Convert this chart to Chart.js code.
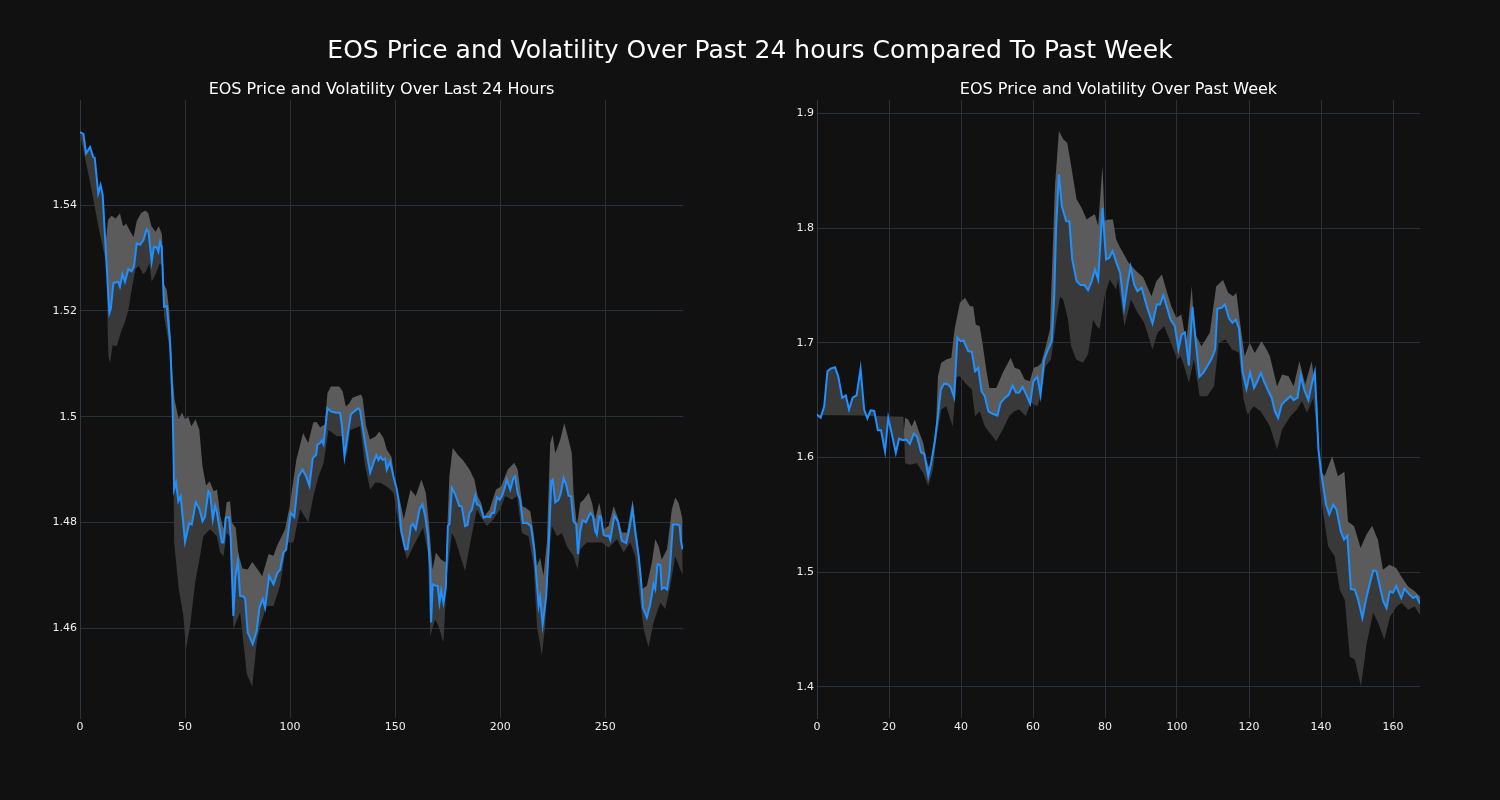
<!DOCTYPE html>
<html><head><meta charset="utf-8">
<script src="https://cdn.jsdelivr.net/npm/chart.js@4.4.0/dist/chart.umd.min.js"></script>
<style>
html,body{margin:0;padding:0;background:#111111;width:1500px;height:800px;overflow:hidden;font-family:"DejaVu Sans",sans-serif;}
.t{position:absolute;color:#ffffff;text-align:center;white-space:nowrap;}
canvas{position:absolute;top:0;}
</style></head><body>
<canvas id="c1" width="750" height="800" style="left:0px"></canvas>
<canvas id="c2" width="750" height="800" style="left:750px"></canvas>
<div class="t" style="left:0;width:1500px;top:35px;font-size:25px;line-height:30px;">EOS Price and Volatility Over Past 24 hours Compared To Past Week</div>
<div class="t" style="left:80px;width:603px;top:79px;font-size:16px;line-height:20px;">EOS Price and Volatility Over Last 24 Hours</div>
<div class="t" style="left:817px;width:603px;top:79px;font-size:16px;line-height:20px;">EOS Price and Volatility Over Past Week</div>
<script>
// ---------- Left chart: last 24 hours ----------
const leftTitle = "EOS Price and Volatility Over Last 24 Hours";
const leftXTicks = [0, 50, 100, 150, 200, 250];
const leftYTicks = [1.46, 1.48, 1.5, 1.52, 1.54];
const leftPriceX = [0,1.6,2.9,4.8,6.3,7,8.7,9.8,10.8,12.7,14,14.7,15.9,18.2,19,20.2,21.4,23,24.6,25.7,27,28.6,30.2,31.7,32.6,34.1,35.2,36.5,37.3,38.1,38.9,40,41.3,42.9,44,44.6,44.8,45.7,46.8,47.9,50,52,53.2,55.1,56.8,58.3,59.5,61.1,61.9,63.2,64.3,65.1,67.5,68.3,69.4,71,71.7,73,74,75.1,76.2,77.8,78.6,79.8,82.2,84.1,85.4,87,88.1,90,92.1,94,95.2,96.8,98.1,100.3,102,104,105.9,107.6,109.2,110.8,112.4,113,114.3,115.1,115.9,117.8,119.4,121.4,123.8,124.6,125.9,127,128.9,130.5,132.5,133.3,135.7,138.1,139.7,141,142.1,142.9,144.1,145.2,146,147.6,149.2,150.8,151.6,152.9,154.8,155.9,157.5,158.4,159.8,161.6,163,164.3,165.6,166.7,167.1,167.9,169.5,170.2,171.1,171.9,173,174.1,175.1,175.9,177,178.6,180.5,181.7,183.3,184.4,185.4,186.5,188.1,188.9,190.5,192.1,193.7,195.2,196,197.1,198.4,199.7,200.8,201.9,203.2,204.8,206.3,207.1,208.3,209.5,210.8,212.7,214.6,216.2,218.3,219,220.2,221.9,223,224.3,225,226.2,227.8,228.9,230.2,231.4,232.5,233.7,234.9,236.2,237,238.1,239.2,240.8,242.9,244.1,245.2,246,247.1,248,249.2,250.5,251.6,252.4,254.3,256,257.9,260,261.6,263,264.3,265.9,267,267.9,269.8,271.4,273,273.8,274.9,276.2,276.9,278,279.4,280.6,282.2,284.1,285.4,286,286.8];
const leftPriceY = [1.5538,1.5535,1.5498,1.5510,1.5491,1.5490,1.5422,1.5438,1.5419,1.5284,1.5196,1.5205,1.5253,1.5255,1.5246,1.5270,1.5255,1.5279,1.5275,1.5284,1.5328,1.5325,1.5334,1.5354,1.5350,1.5293,1.5321,1.5320,1.5312,1.5331,1.5320,1.5208,1.5209,1.5140,1.5032,1.4910,1.4862,1.4875,1.4840,1.4849,1.4763,1.4799,1.4796,1.4838,1.4826,1.4802,1.4811,1.4859,1.4855,1.4806,1.4831,1.4820,1.4762,1.4762,1.4809,1.4810,1.4774,1.4623,1.4699,1.4727,1.4661,1.4660,1.4655,1.4592,1.4570,1.4595,1.4639,1.4655,1.4639,1.4699,1.4683,1.4705,1.4710,1.4743,1.4748,1.4818,1.4810,1.4887,1.4900,1.4887,1.4869,1.4922,1.4928,1.4947,1.4950,1.4955,1.4948,1.5016,1.5010,1.5008,1.5007,1.4985,1.4925,1.4956,1.5004,1.5010,1.5016,1.5012,1.4950,1.4894,1.4913,1.4927,1.4918,1.4924,1.4918,1.4921,1.4900,1.4915,1.4887,1.4862,1.4843,1.4784,1.4749,1.4749,1.4793,1.4797,1.4787,1.4825,1.4834,1.4812,1.4774,1.4711,1.4611,1.4683,1.4680,1.4680,1.4648,1.4671,1.4648,1.4676,1.4793,1.4797,1.4865,1.4853,1.4831,1.4830,1.4793,1.4795,1.4818,1.4824,1.4851,1.4834,1.4831,1.4809,1.4811,1.4810,1.4818,1.4818,1.4847,1.4843,1.4850,1.4862,1.4881,1.4862,1.4884,1.4887,1.4856,1.4843,1.4799,1.4799,1.4793,1.4749,1.4642,1.4658,1.4606,1.4661,1.4749,1.4878,1.4881,1.4838,1.4843,1.4856,1.4884,1.4871,1.4851,1.4849,1.4802,1.4796,1.4740,1.4784,1.4804,1.4800,1.4818,1.4812,1.4784,1.4777,1.4812,1.4810,1.4777,1.4774,1.4775,1.4767,1.4813,1.4802,1.4765,1.4761,1.4790,1.4826,1.4781,1.4736,1.4692,1.4639,1.4620,1.4645,1.4683,1.4674,1.4721,1.4719,1.4674,1.4677,1.4673,1.4705,1.4796,1.4796,1.4794,1.4765,1.4749];
const leftUpperX = [0,1.6,2.9,4.8,6.3,7,8.7,9.8,10.8,12,13.3,15,17,19,20.5,22,24,25.5,27,29,31,32.5,34,36,37.5,39,40,41.3,42.5,44,45,47,48.5,50,51.5,53,55,56.8,58.3,60,61.7,63.7,65.2,66.8,68.3,69.8,71.4,72.3,74.1,75.4,77.3,79.8,82,85.1,86.7,89.8,92.1,93.7,97.6,99.8,103,106.2,108.6,111,112.6,114.3,116.5,117.8,119.4,123.4,125,126.5,128.1,129.7,133.7,134.5,136.1,138,140.8,142.4,144.4,146,148.3,150.2,152.5,154.1,157.3,159.8,162.5,164.6,166.2,167.8,169.4,171.8,174.2,175.8,177.4,179.8,182.2,185.4,187.7,189.3,190.9,192.5,194.9,198,200.4,203.6,206.7,208.3,210.6,211.9,214.3,215.9,217.5,219,220.6,222.2,223.8,225,226.2,228.6,230.5,232.5,234.1,234.9,236.5,238.1,239.7,242.1,243.7,245.2,247.1,248.4,249.2,251.6,254,256.3,257.9,260.3,263,264.3,265.9,267.5,269.8,272.2,273.8,275.4,276.9,279.4,281.7,283.3,284.9,286.8];
const leftUpperY = [1.5538,1.5535,1.5498,1.5510,1.5491,1.5490,1.5422,1.5438,1.5419,1.5320,1.5372,1.5380,1.5375,1.5385,1.5360,1.5365,1.5350,1.5340,1.5370,1.5385,1.5390,1.5385,1.5360,1.5350,1.5360,1.5345,1.5250,1.5240,1.5200,1.5080,1.5032,1.4995,1.5008,1.4995,1.5000,1.4982,1.4995,1.4975,1.4906,1.4870,1.4878,1.4859,1.4862,1.4812,1.4787,1.4838,1.4840,1.4800,1.4790,1.4740,1.4713,1.4711,1.4725,1.4708,1.4698,1.4740,1.4737,1.4755,1.4787,1.4831,1.4919,1.4969,1.4950,1.4989,1.4990,1.4980,1.4985,1.5045,1.5057,1.5057,1.5048,1.5019,1.5025,1.5036,1.5042,1.5036,1.4984,1.4957,1.4963,1.4972,1.4960,1.4938,1.4923,1.4868,1.4837,1.4806,1.4862,1.4850,1.4881,1.4856,1.4793,1.4711,1.4743,1.4730,1.4724,1.4887,1.4941,1.4928,1.4918,1.4900,1.4881,1.4850,1.4837,1.4812,1.4824,1.4862,1.4868,1.4900,1.4913,1.4900,1.4830,1.4828,1.4821,1.4780,1.4718,1.4733,1.4699,1.4762,1.4950,1.4966,1.4931,1.4957,1.4988,1.4957,1.4931,1.4856,1.4793,1.4837,1.4843,1.4856,1.4837,1.4806,1.4837,1.4812,1.4787,1.4793,1.4831,1.4806,1.4781,1.4781,1.4843,1.4799,1.4749,1.4674,1.4680,1.4724,1.4768,1.4755,1.4730,1.4749,1.4825,1.4847,1.4837,1.4806];
const leftLowerX = [0,4.8,9,12.5,13.5,14.3,15.5,17.5,19.5,21.5,23,25,26.5,28,30,31.5,33,34.1,36,38,39,40,41.3,42.5,44.4,44.8,47,49.2,50.4,52.4,54.8,57.1,58.7,61.9,65.1,66.7,68.3,69.8,71.4,73,76.2,79.4,82,84.1,85.7,88.9,92.1,95.2,98.4,101.6,104.8,108.7,111.1,113.5,115.9,118.3,122.2,125.4,127,128.6,133.3,135.7,138.1,140.5,142.9,146,149.2,152.4,155.6,158.7,163.3,165.6,166.7,169,170.6,173,174.6,177,178.6,181,183.3,184.9,187.3,188.9,190.5,193.7,196.8,200,202.4,205.6,208,210.3,213.5,215.9,217.5,218.3,219.8,221.4,223,224.6,227,229.4,231.7,234.9,236.8,238.1,241.3,244.4,248.4,251.6,255.6,258.7,261.9,264.3,266.7,268.3,270.6,273,276.2,278.6,281,283.3,285.7,287];
const leftLowerY = [1.5535,1.5443,1.5355,1.5290,1.5115,1.5101,1.5135,1.5133,1.5160,1.5180,1.5202,1.5250,1.5280,1.5285,1.5270,1.5275,1.5290,1.5255,1.5270,1.5290,1.5285,1.5190,1.5160,1.5130,1.4950,1.4762,1.4674,1.4623,1.4560,1.4604,1.4686,1.4736,1.4774,1.4787,1.4774,1.4743,1.4736,1.4780,1.4774,1.4598,1.4630,1.4513,1.4489,1.4573,1.4604,1.4642,1.4642,1.4680,1.4762,1.4762,1.4825,1.4800,1.4850,1.4887,1.4912,1.4975,1.4963,1.4963,1.4925,1.4975,1.4982,1.4906,1.4862,1.4875,1.4875,1.4868,1.4856,1.4780,1.4730,1.4755,1.4790,1.4743,1.4585,1.4617,1.4604,1.4573,1.4699,1.4780,1.4768,1.4736,1.4708,1.4743,1.4793,1.4825,1.4812,1.4793,1.4806,1.4825,1.4850,1.4843,1.4850,1.4780,1.4774,1.4718,1.4604,1.4585,1.4548,1.4604,1.4724,1.4793,1.4774,1.4780,1.4755,1.4736,1.4711,1.4749,1.4762,1.4762,1.4762,1.4752,1.4768,1.4743,1.4762,1.4736,1.4648,1.4598,1.4564,1.4611,1.4648,1.4636,1.4680,1.4736,1.4711,1.4699];

// ---------- Right chart: past week ----------
const rightTitle = "EOS Price and Volatility Over Past Week";
const rightXTicks = [0, 20, 40, 60, 80, 100, 120, 140, 160];
const rightYTicks = [1.4, 1.5, 1.6, 1.7, 1.8, 1.9];
const rightPriceX = [0,1,2,2.9,3.8,5,5.9,7,8,8.9,9.9,11,12.1,13.1,14,14.9,15.9,16.9,17.8,18.9,19.8,20.7,21.9,22.8,23.9,24.8,25.8,26.9,27.8,28.9,29.8,30.9,31.8,32.8,33.7,34.4,35.3,36.2,37.1,38.1,39,39.9,40.7,42,43,43.9,44.8,45.7,46.6,47.6,48.5,50.1,51,52.2,53.3,54.3,55.3,56.2,57.1,58.1,59.2,60.1,61.2,62.1,63.1,64,65.2,65.9,66.4,67.2,68,69.2,70.1,70.9,72.1,73.2,74.3,75.3,76.3,77.2,78.1,79.3,80.3,81.2,82.1,83.2,84.2,85.3,86.2,87.1,88.1,89,90.2,91.6,93.2,94.4,95.3,96.2,97.1,98.2,99.4,100.4,101.3,102.2,103.3,104.3,105.2,106.2,107.3,108.4,109.6,110.6,111.2,112.4,113.3,114.5,115.4,116.3,117.2,118.2,119.3,120.3,121.4,122.3,123.3,124.2,125.4,126.3,127.2,128.1,129.1,130.3,131.5,132.4,133.5,134.4,135.3,136.5,137.4,138.3,139.3,140.2,141.4,142.3,143.4,144.3,145.5,146.4,147.3,148.3,149.4,150.3,151.5,152.5,153.6,154.5,155.4,156.3,157.3,158.2,159.1,160,160.9,162.3,163.2,164.4,165.6,166.5,167.5];
const rightPriceY = [1.6373,1.6345,1.6446,1.6751,1.6774,1.6786,1.6707,1.6520,1.6540,1.6417,1.6520,1.6540,1.6772,1.6417,1.6340,1.6410,1.6405,1.6237,1.6237,1.6053,1.6345,1.6216,1.6039,1.6163,1.6150,1.6155,1.6118,1.6208,1.6180,1.6045,1.6031,1.5835,1.5965,1.6155,1.6388,1.6592,1.6643,1.6640,1.6614,1.6524,1.7043,1.7013,1.7019,1.6926,1.6920,1.6751,1.6780,1.6577,1.6534,1.6402,1.6385,1.6365,1.6475,1.6519,1.6548,1.6627,1.6563,1.6565,1.6615,1.6550,1.6470,1.6664,1.6702,1.6542,1.6853,1.6926,1.7013,1.7405,1.7988,1.8468,1.8191,1.8060,1.8057,1.7726,1.7537,1.7502,1.7502,1.7458,1.7537,1.7639,1.7550,1.8177,1.7726,1.7740,1.7798,1.7696,1.7610,1.7305,1.7500,1.7662,1.7508,1.7450,1.7479,1.7319,1.7167,1.7333,1.7333,1.7414,1.7319,1.7202,1.7144,1.6941,1.7071,1.7090,1.6801,1.7313,1.7013,1.6703,1.6737,1.6795,1.6860,1.6941,1.7295,1.7304,1.7333,1.7208,1.7173,1.7202,1.7130,1.6751,1.6597,1.6742,1.6606,1.6664,1.6737,1.6660,1.6577,1.6519,1.6402,1.6344,1.6461,1.6499,1.6534,1.6499,1.6520,1.6714,1.6592,1.6499,1.6635,1.6743,1.6068,1.5835,1.5588,1.5503,1.5588,1.5545,1.5355,1.5283,1.5317,1.4852,1.4846,1.4760,1.4600,1.4760,1.4905,1.5015,1.5006,1.4881,1.4745,1.4687,1.4832,1.4820,1.4878,1.4774,1.4855,1.4810,1.4774,1.4790,1.4724];
const rightUpperX = [0,1,2,2.9,3.8,5,5.9,7,8,8.9,9.9,11,12.1,13.1,14,14.9,15.9,16.9,17.8,18.9,19.8,20.7,21.9,22.8,23.9,24.5,25.3,26.3,27.2,28.1,29.5,30.4,31.3,32.2,33.1,33.6,34.5,35.9,37.3,38.2,39.7,41.1,42.5,43.4,44.1,45.2,46.1,47,47.9,49.8,51.6,53.8,54.9,56.3,57.7,59.1,60.2,61.4,62.3,63.7,64.7,66.1,67.2,68.4,69.5,70.3,71.2,72.1,73.5,74.9,76.3,77.2,78.1,79.3,79.9,80.8,82.2,83.1,84,86.5,88.8,90.6,92.9,94.3,95.8,97,98.4,99.8,101.2,102.6,104.1,104.9,106.8,109.1,110.9,112.8,114.2,115.6,116.5,117.4,118.8,120.2,121.6,123.5,124.9,125.8,127.8,129.2,131,132.4,134,135.6,137.4,138.8,139.7,141,143.1,144.7,146.5,147.5,149.2,151,152.6,154.2,155.8,157.2,159,160.9,162.3,164.2,166,167.5];
const rightUpperY = [1.6373,1.6345,1.6446,1.6751,1.6774,1.6786,1.6707,1.6520,1.6540,1.6417,1.6520,1.6540,1.6772,1.6417,1.6340,1.6410,1.6405,1.6237,1.6237,1.6053,1.6345,1.6216,1.6039,1.6163,1.6150,1.6345,1.6330,1.6270,1.6330,1.6243,1.6127,1.5981,1.5894,1.6068,1.6301,1.6707,1.6825,1.6853,1.6868,1.7115,1.7348,1.7392,1.7318,1.7318,1.7159,1.7144,1.6970,1.6766,1.6606,1.6606,1.6737,1.6868,1.6781,1.6766,1.6679,1.6664,1.6781,1.6795,1.6824,1.6984,1.7115,1.8366,1.8846,1.8773,1.8744,1.8599,1.8424,1.8250,1.8177,1.8075,1.8104,1.8119,1.8017,1.8540,1.8060,1.8075,1.8075,1.7901,1.7842,1.7700,1.7620,1.7570,1.7405,1.7537,1.7595,1.7464,1.7319,1.7217,1.7246,1.6999,1.7493,1.7086,1.6970,1.7086,1.7493,1.7546,1.7435,1.7405,1.7435,1.7202,1.6882,1.6999,1.6911,1.7013,1.6941,1.6882,1.6620,1.6723,1.6707,1.6620,1.6839,1.6635,1.6839,1.6533,1.5894,1.5835,1.6010,1.5835,1.5876,1.5442,1.5399,1.5210,1.5326,1.5405,1.5283,1.5021,1.5065,1.5036,1.4962,1.4875,1.4832,1.4788];
const rightLowerX = [0,12,24,24.5,25.8,27.7,29.5,30.9,32.2,33.1,34.5,35.9,37.7,38.8,39.7,41.1,43,43.9,45.2,46.6,48,49.8,51.6,53.4,54.8,56.2,58,59.4,61.2,62.1,63.5,65,66.5,67.5,68.4,69.7,70.6,72,73.9,75.3,76.7,77.7,78.5,79.9,81.3,83.1,83.6,85.4,87.2,89.1,90.9,93.2,94.6,96.4,98.3,100.1,101,102,103.3,104.7,106.3,108.4,110.3,111.6,113.5,115.3,117.2,118.5,119.6,121.3,123.3,125.8,127.8,129.2,131.5,133.3,134.7,136.1,137.9,138.8,139.7,140.9,142,143.8,145.2,146.6,148,149.4,151.1,152.7,154.5,155.9,157.6,159.2,161,162.4,164.2,166,167.5];
const rightLowerY = [1.6370,1.6365,1.6355,1.5950,1.5937,1.5950,1.5865,1.5748,1.5894,1.6155,1.6417,1.6446,1.6270,1.6700,1.6707,1.6650,1.6592,1.6359,1.6402,1.6271,1.6213,1.6140,1.6243,1.6359,1.6402,1.6417,1.6359,1.6476,1.6446,1.6533,1.6795,1.6853,1.7200,1.7400,1.7377,1.7202,1.6969,1.6853,1.6825,1.6900,1.7200,1.7144,1.7120,1.7405,1.7551,1.7464,1.7551,1.7144,1.7377,1.7260,1.7173,1.6941,1.7086,1.7144,1.6999,1.6853,1.6882,1.6795,1.6650,1.6853,1.6533,1.6533,1.6620,1.6999,1.7028,1.6941,1.6912,1.6504,1.6373,1.6446,1.6400,1.6271,1.6068,1.6243,1.6359,1.6417,1.6490,1.6390,1.6519,1.6243,1.5719,1.5457,1.5224,1.5137,1.4846,1.4759,1.4265,1.4236,1.4003,1.4381,1.4643,1.4556,1.4410,1.4613,1.4700,1.4730,1.4672,1.4700,1.4628];

const BG = '#111111', GRID = '#2a313b', SPINE = '#2f3742', TICK = '#eeeeee';
const LINE = '#1e90ff', LIGHT = '#5b5b5b', DARK = '#393939';

function pts(xs, ys) { return xs.map((x, i) => ({x: x, y: ys[i]})); }

function build(id, o) {
  new Chart(document.getElementById(id), {
    type: 'line',
    data: {
      datasets: [
        {data: pts(o.px, o.py), borderColor: LINE, borderWidth: 2, pointRadius: 0, fill: false, order: 0, tension: 0},
        {data: pts(o.ux, o.uy), borderWidth: 0, borderColor: 'rgba(0,0,0,0)', backgroundColor: LIGHT, pointRadius: 0, fill: {target: 0}, order: 2, tension: 0},
        {data: pts(o.lx, o.ly), borderWidth: 0, borderColor: 'rgba(0,0,0,0)', backgroundColor: DARK, pointRadius: 0, fill: {target: 0}, order: 1, tension: 0}
      ]
    },
    options: {
      responsive: false, animation: false, devicePixelRatio: 1,
      layout: {padding: {left: 0, right: o.padRight, top: 100, bottom: 0}},
      plugins: {legend: {display: false}, tooltip: {enabled: false}, title: {display: false}},
      scales: {
        x: {
          type: 'linear', min: o.xmin, max: o.xmax,
          afterBuildTicks: s => { s.ticks = o.xticks.map(v => ({value: v})); },
          afterFit: s => { s.height = 82; },
          ticks: {color: TICK, font: {family: 'DejaVu Sans', size: 11}, padding: 3, maxRotation: 0, autoSkip: false, callback: v => String(v)},
          grid: {color: GRID, drawTicks: false, lineWidth: 1},
          border: {display: false}
        },
        y: {
          type: 'linear', min: o.ymin, max: o.ymax,
          afterBuildTicks: s => { s.ticks = o.yticks.map(v => ({value: v})); },
          afterFit: s => { s.width = o.yWidth; },
          ticks: {color: TICK, font: {family: 'DejaVu Sans', size: 11}, padding: 3, callback: v => String(Math.round(v * 100) / 100)},
          grid: {color: GRID, drawTicks: false, lineWidth: 1},
          border: {display: true, color: SPINE, width: 1}
        }
      }
    }
  });
}

build('c1', {px: leftPriceX, py: leftPriceY, ux: leftUpperX, uy: leftUpperY, lx: leftLowerX, ly: leftLowerY,
  xmin: 0, xmax: 287, ymin: 1.443, ymax: 1.5599, xticks: leftXTicks, yticks: leftYTicks, padRight: 67, yWidth: 80});
build('c2', {px: rightPriceX, py: rightPriceY, ux: rightUpperX, uy: rightUpperY, lx: rightLowerX, ly: rightLowerY,
  xmin: 0, xmax: 167.5, ymin: 1.3728, ymax: 1.9116, xticks: rightXTicks, yticks: rightYTicks, padRight: 80, yWidth: 67});
</script>
</body></html>
